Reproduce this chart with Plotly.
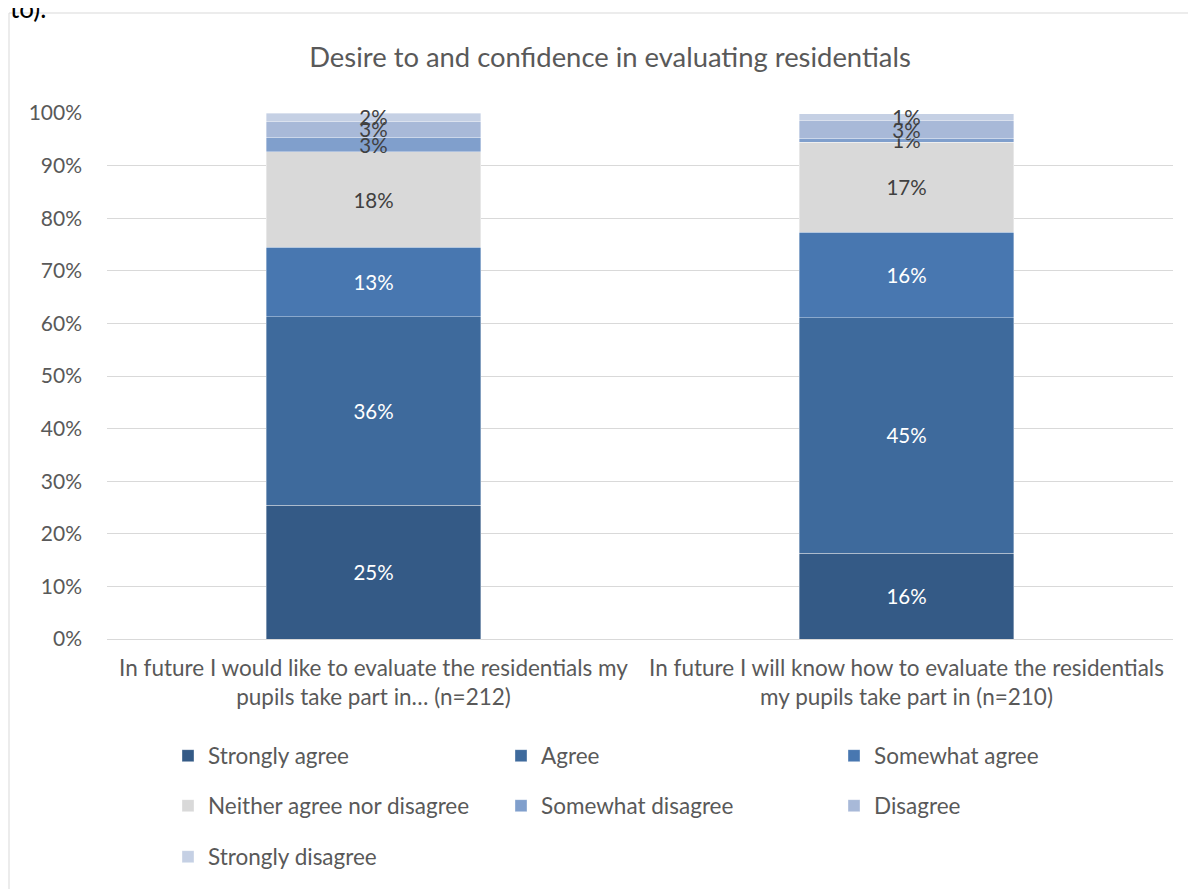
import plotly.graph_objects as go

# The page body has an 8px margin, so the figure is drawn 8px smaller and
# every reference position is shifted by -8px.
W, H = 1188, 881
OFF = 8

categories = [
    "In future I would like to evaluate the residentials my<br>pupils take part in… (n=212)",
    "In future I will know how to evaluate the residentials<br>my pupils take part in (n=210)",
]
series_names = ["Strongly agree", "Agree", "Somewhat agree",
                "Neither agree nor disagree", "Somewhat disagree",
                "Disagree", "Strongly disagree"]
strongly_agree = [25.4, 16.3]
agree = [35.9, 44.8]
somewhat_agree = [13.2, 16.2]
neither = [18.1, 17.1]
somewhat_disagree = [2.8, 0.8]
disagree = [3.0, 3.3]
strongly_disagree = [1.6, 1.4]
series_values = [strongly_agree, agree, somewhat_agree, neither,
                 somewhat_disagree, disagree, strongly_disagree]
colors = ["#345A86", "#3E6A9C", "#4877B0", "#D9D9D9", "#809FCC", "#A8B9D8", "#C5D0E4"]
text_colors = ["#FFFFFF", "#FFFFFF", "#FFFFFF", "#404040", "#404040", "#404040", "#404040"]
legend_ids = ["legend", "legend", "legend", "legend2", "legend2", "legend2", "legend3"]
y_ticks = [0, 10, 20, 30, 40, 50, 60, 70, 80, 90, 100]
y_tick_labels = [f"{v}%" for v in y_ticks]

FONT = "Lato, 'Open Sans', sans-serif"


def px_x(r):
    return (r - OFF) / W


def px_y(r):
    return 1 - (r - OFF) / H


fig = go.Figure()
for name, vals, c, tc, lg in zip(series_names, series_values, colors, text_colors, legend_ids):
    fig.add_trace(go.Bar(
        x=categories, y=vals, name=name,
        marker=dict(color=c, line=dict(width=0.6, color="rgba(255,255,255,0.6)")),
        text=[f"{round(v)}%" for v in vals],
        textposition="inside", insidetextanchor="middle", textangle=0,
        constraintext="none", cliponaxis=False,
        insidetextfont=dict(color=tc, size=20.5, family=FONT),
        legend=lg, hoverinfo="skip",
    ))

fig.update_layout(
    width=W, height=H,
    margin=dict(l=0, r=0, t=0, b=0, autoexpand=False),
    paper_bgcolor="white", plot_bgcolor="white",
    barmode="stack", bargap=0.598,
    font=dict(family=FONT, color="#595959", size=20),
    title=dict(text="Desire to and confidence in evaluating residentials",
               x=px_x(610), xanchor="center", y=px_y(57), yanchor="middle",
               font=dict(size=27.4, color="#595959", family=FONT)),
    xaxis=dict(domain=[px_x(107), px_x(1173)], showgrid=False, showline=True,
               linecolor="#D9D9D9", linewidth=1, ticks="", ticklabelstandoff=9,
               tickfont=dict(size=22.5, color="#595959"), fixedrange=True,
               automargin=False),
    yaxis=dict(domain=[px_y(639), px_y(113)], range=[0, 100], tickvals=y_ticks,
               ticktext=y_tick_labels, showgrid=True, gridcolor="#D9D9D9", gridwidth=1,
               zeroline=False, showline=False, ticks="", ticklabelstandoff=24,
               tickfont=dict(size=21, color="#595959"), fixedrange=True,
               automargin=False),
    showlegend=True,
)
leg_common = dict(orientation="h", xanchor="left", yanchor="middle", entrywidth=288,
                  entrywidthmode="pixels", bgcolor="rgba(0,0,0,0)", traceorder="normal",
                  font=dict(size=22.5, color="#595959", family=FONT), itemwidth=30,
                  tracegroupgap=0)
fig.update_layout(
    legend=dict(x=px_x(168), y=px_y(756), **leg_common),
    legend2=dict(x=px_x(168), y=px_y(806), **leg_common),
    legend3=dict(x=px_x(168), y=px_y(857), **leg_common),
)
fig.add_shape(type="rect", xref="paper", yref="paper",
              x0=px_x(9), x1=px_x(1190), y0=-0.05, y1=px_y(13),
              line=dict(color="#D9D9D9", width=1), fillcolor="rgba(0,0,0,0)", layer="below")
fig.add_annotation(text="to).", xref="paper", yref="paper", x=0, y=1,
                   xanchor="left", yanchor="middle", showarrow=False,
                   font=dict(size=26, color="#000000", family=FONT))

fig.write_html("out.html")
